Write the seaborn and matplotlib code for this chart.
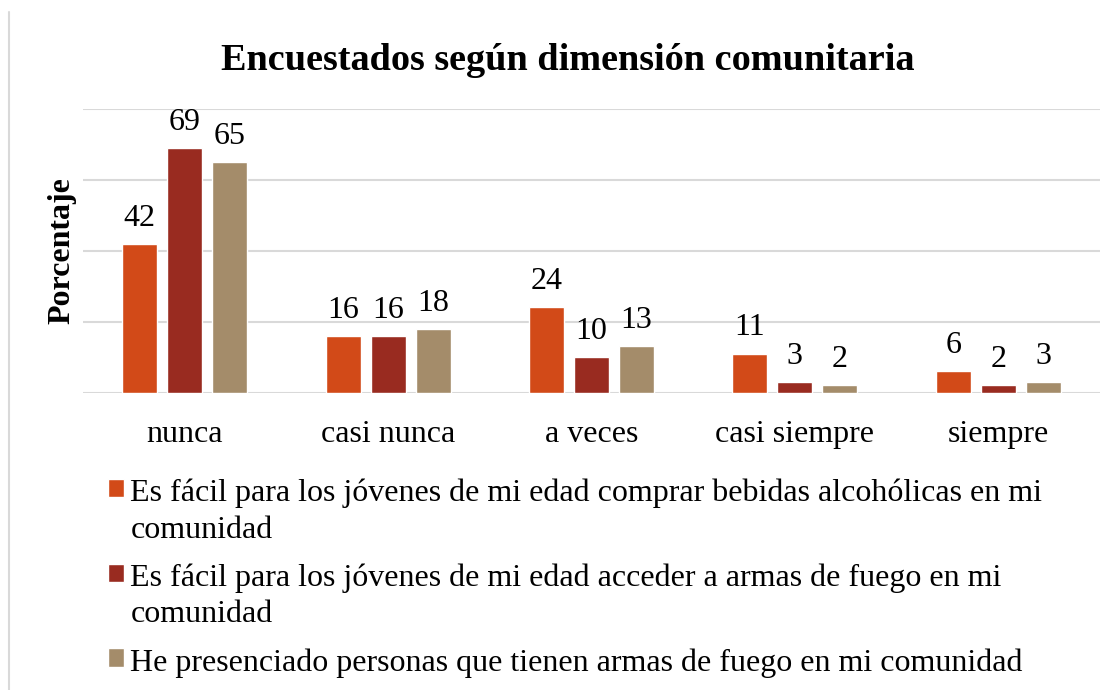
import matplotlib
matplotlib.use("Agg")
import matplotlib.pyplot as plt
import numpy as np
import pandas as pd
import seaborn as sns
from matplotlib.lines import Line2D

# Datos
categorias = ["nunca", "casi nunca", "a veces", "casi siempre", "siempre"]
series = [
    "Es fácil para los jóvenes de mi edad comprar bebidas alcohólicas en mi\ncomunidad",
    "Es fácil para los jóvenes de mi edad acceder a armas de fuego en mi\ncomunidad",
    "He presenciado personas que tienen armas de fuego en mi comunidad",
]
alcohol = [42, 16, 24, 11, 6]
armas_acceso = [69, 16, 10, 3, 2]
armas_presencia = [65, 18, 13, 2, 3]
colores = ["#D24A18", "#992B20", "#A48C6A"]

rows = []
for serie, valores in zip(series, [alcohol, armas_acceso, armas_presencia]):
    for cat, v in zip(categorias, valores):
        rows.append({"categoria": cat, "serie": serie, "valor": v})
df = pd.DataFrame(rows)

sns.set_theme(style="white")
plt.rcParams["font.family"] = ["Liberation Serif", "DejaVu Serif"]
plt.rcParams["text.color"] = "black"
plt.rcParams["axes.labelcolor"] = "black"
plt.rcParams["xtick.color"] = "black"

size_setting = 23

fig = plt.figure(figsize=(11.15, 6.9), dpi=100)
ax = fig.add_axes([83 / 1115, 1 - 392.5 / 690, (1100 - 83) / 1115, (392.5 - 109) / 690])

sns.barplot(data=df, x="categoria", y="valor", hue="serie", palette=colores,
            saturation=1, width=0.664, gap=0.22, ax=ax, legend=True)

for cont in ax.containers:
    ax.bar_label(cont, fmt="%g", padding=8, fontsize=size_setting, color="black")

ax.set_ylim(0, 80)
ax.set_yticks([0, 20, 40, 60, 80])
ax.set_yticklabels([])
ax.grid(axis="y", color="#d9d9d9", linewidth=1.5)
ax.set_axisbelow(True)
for s in ax.spines.values():
    s.set_visible(False)
ax.tick_params(axis="both", length=0)
ax.tick_params(axis="x", labelsize=size_setting, pad=20)
ax.set_xlabel("")
ax.set_ylabel("Porcentaje", fontsize=size_setting, fontweight="bold", labelpad=1)
ax.set_title("Encuestados según dimensión comunitaria", fontsize=27.5,
             fontweight="bold", x=0.477, pad=28)

handles, labels = ax.get_legend_handles_labels()
ax.legend_.remove()
leg = fig.legend(handles, labels, loc="upper left",
                 bbox_to_anchor=(108 / 1115, 1 - 479 / 690),
                 frameon=False, fontsize=size_setting, borderpad=0,
                 borderaxespad=0, handlelength=0.5, handleheight=0.5,
                 handletextpad=0.2, labelspacing=0.6)
for t in leg.get_texts():
    t.set_linespacing(1.32)
for col in leg._legend_handle_box.get_children():
    for item in col.get_children():
        item.align = "top"

fig.add_artist(Line2D([9 / 1115, 9 / 1115], [0, 1 - 12 / 690],
                      transform=fig.transFigure, color="#d9d9d9", linewidth=1.5))

plt.savefig("out.png", dpi=100)
